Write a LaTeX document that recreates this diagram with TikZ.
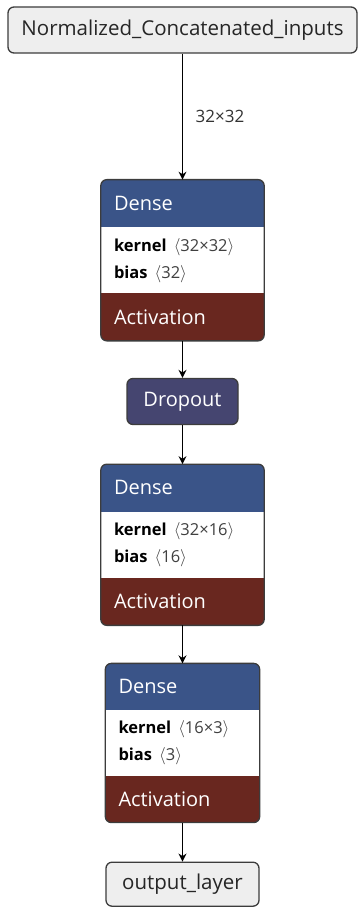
\documentclass[tikz,border=0pt]{standalone}
\usepackage{fontspec}
\setmainfont{Open Sans}
\usetikzlibrary{positioning,arrows.meta,backgrounds}
\definecolor{densecol}{HTML}{3A5488}
\definecolor{actcol}{HTML}{69271F}
\definecolor{dropcol}{HTML}{454570}
\definecolor{termcol}{HTML}{EEEEEE}
\definecolor{linecol}{HTML}{3C3C3C}
\tikzstyle{edge} = [line width=1.7pt, -{Stealth[length=8pt,width=8pt]}]
\tikzstyle{term} = [draw=linecol, fill=termcol, line width=1.3pt, rounded corners=6pt, font=\fontsize{20.5}{23}\selectfont, text=black!85]
\tikzstyle{head} = [text width=137pt, inner xsep=13pt, inner ysep=0pt, minimum height=47pt, align=left, text=white, font=\fontsize{20}{23}\selectfont]
\tikzstyle{attr} = [text width=137pt, inner xsep=13pt, inner ysep=0pt, minimum height=66pt, align=left, font=\fontsize{16.5}{27}\selectfont]
\tikzstyle{blockline} = [draw=linecol, line width=1.3pt, rounded corners=6pt]
\newcommand{\shp}[1]{\hspace{7pt}\textcolor{black!75}{$\langle$#1$\rangle$}}

\begin{document}
\begin{tikzpicture}[x=1pt,y=-1pt]
\useasboundingbox (0,0) rectangle (358,909);

\node[term, minimum width=349pt, minimum height=46pt] (inp) at (182.5,30) {Normalized\_Concatenated\_inputs};

% first dense
\node[head, below=126pt of inp] (d1h) {Dense};
\node[attr, below=0pt of d1h] (d1b) {\textbf{kernel}\shp{32×32}\\\textbf{bias}\shp{32}};
\node[head, below=0pt of d1b] (d1a) {Activation};

\node[draw=linecol, fill=dropcol, line width=1.3pt, rounded corners=6pt, text=white, minimum width=111pt, minimum height=46pt, font=\fontsize{20}{23}\selectfont, below=37pt of d1a] (drop) {Dropout};

% second dense
\node[head, below=39pt of drop] (d2h) {Dense};
\node[attr, below=0pt of d2h] (d2b) {\textbf{kernel}\shp{32×16}\\\textbf{bias}\shp{16}};
\node[head, below=0pt of d2b] (d2a) {Activation};

% third dense
\node[head, text width=128pt, minimum height=46pt, below=38pt of d2a] (d3h) {Dense};
\node[attr, text width=128pt, minimum height=66pt, below=0pt of d3h] (d3b) {\textbf{kernel}\shp{16×3}\\\textbf{bias}\shp{3}};
\node[head, text width=128pt, minimum height=46pt, below=0pt of d3b] (d3a) {Activation};

\node[term, minimum width=153pt, minimum height=44pt, below=39pt of d3a] (out) {output\_layer};

\begin{scope}[on background layer]
\foreach \b in {d1,d2,d3}{
  \begin{scope}
  \clip[rounded corners=6pt] (\b h.north west) rectangle (\b a.south east);
  \fill[densecol] (\b h.north west) rectangle (\b h.south east);
  \fill[white] (\b b.north west) rectangle (\b b.south east);
  \fill[actcol] (\b a.north west) rectangle (\b a.south east);
  \end{scope}
  \draw[blockline] (\b h.north west) rectangle (\b a.south east);
}
\end{scope}

\draw[edge] (inp) -- node[midway, right, xshift=9pt, font=\fontsize{17}{20}\selectfont, text=black!80] {32×32} (d1h);
\draw[edge] (d1a) -- (drop);
\draw[edge] (drop) -- (d2h);
\draw[edge] (d2a) -- (d3h);
\draw[edge] (d3a) -- (out);
\end{tikzpicture}
\end{document}
